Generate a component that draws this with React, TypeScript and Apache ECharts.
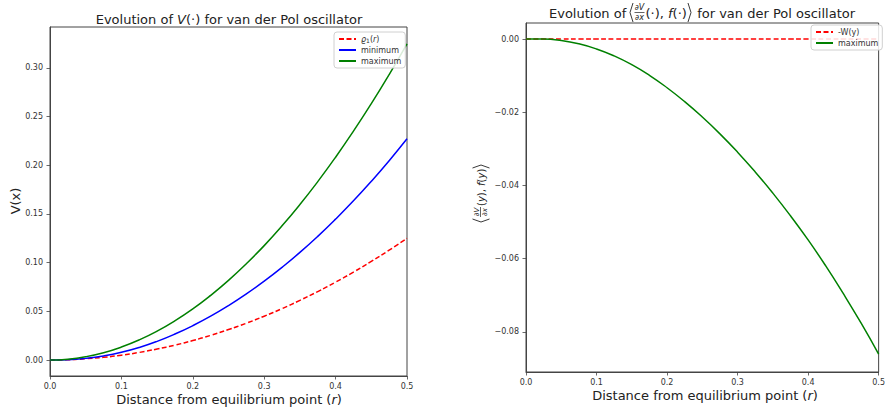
import React, { useEffect, useRef } from 'react';
import * as echarts from 'echarts';

// Distance from equilibrium point r
const R = [0, 0.025, 0.05, 0.075, 0.1, 0.125, 0.15, 0.175, 0.2, 0.225, 0.25, 0.275, 0.3, 0.325, 0.35, 0.375, 0.4, 0.425, 0.45, 0.475, 0.5];
// Left panel: V(.)
const RHO1 = [0, 0.0003, 0.0013, 0.0028, 0.0050, 0.0078, 0.0113, 0.0153, 0.0200, 0.0253, 0.0313, 0.0378, 0.0450, 0.0528, 0.0613, 0.0703, 0.0800, 0.0903, 0.1013, 0.1128, 0.1250];
const V_MIN = [0, 0.0003, 0.0017, 0.0042, 0.0079, 0.0129, 0.0192, 0.0267, 0.0353, 0.0450, 0.0559, 0.0679, 0.0810, 0.0952, 0.1105, 0.1270, 0.1447, 0.1635, 0.1835, 0.2047, 0.2272];
const V_MAX = [0, 0.0009, 0.0034, 0.0075, 0.0133, 0.0207, 0.0297, 0.0403, 0.0525, 0.0664, 0.0818, 0.0989, 0.1175, 0.1378, 0.1597, 0.1832, 0.2083, 0.2350, 0.2633, 0.2932, 0.3247];
// Right panel: <dV/dx, f>
const NEG_W = [0, 0, 0, 0, 0, 0, 0, 0, 0, 0, 0, 0, 0, 0, 0, 0, 0, 0, 0, 0, 0];
const DOT_MAX = [0, 0.0000, -0.0004, -0.0013, -0.0027, -0.0046, -0.0070, -0.0099, -0.0133, -0.0171, -0.0213, -0.0259, -0.0309, -0.0363, -0.0421, -0.0483, -0.0549, -0.0620, -0.0696, -0.0776, -0.0861];

const X_TICKS_STEP = 0.1;
const LEFT_Y_TICKS = [0, 0.05, 0.1, 0.15, 0.2, 0.25, 0.3];
const RIGHT_Y_TICKS = [0, -0.02, -0.04, -0.06, -0.08];

const RHO_NAME = 'ϱ1(r)';
const FONT = 'DejaVu Sans';
const AX = '#444';
const TXT = '#222';

const pairs = (ys: number[]) => R.map((r, i) => [r, ys[i]]);

const axisCommon = {
  axisLine: { show: true, onZero: false, lineStyle: { color: AX, width: 1 } },
  axisTick: { show: true, length: 3.5, lineStyle: { color: AX, width: 0.8 } },
  splitLine: { show: false },
};

const richBase = (size: number) => ({
  n: { fontSize: size, fontFamily: FONT, color: TXT },
  i: { fontSize: size, fontFamily: FONT, color: TXT, fontStyle: 'italic' },
});

const lineSeries = (name: string, ax: number, ys: number[], color: string, dashed: boolean) => ({
  name,
  type: 'line',
  xAxisIndex: ax,
  yAxisIndex: ax,
  data: pairs(ys),
  symbol: 'none',
  smooth: 0.5,
  lineStyle: { color, width: 1.5, type: dashed ? [5, 2.5] : 'solid' },
  itemStyle: { color },
});

function buildOption() {
  const legendText = {
    fontSize: 8,
    color: '#333',
    fontFamily: FONT,
    rich: {
      n: { fontSize: 8, fontFamily: FONT, color: '#333' },
      i: { fontSize: 8, fontFamily: FONT, color: '#333', fontStyle: 'italic' },
      s: { fontSize: 6, fontFamily: FONT, color: '#333', verticalAlign: 'bottom' },
    },
  };
  const legendCommon = {
    orient: 'vertical',
    itemWidth: 17,
    itemHeight: 10,
    itemGap: 3,
    padding: [3, 4, 3, 4],
    backgroundColor: 'rgba(255,255,255,0.85)',
    borderColor: '#d0d0d0',
    borderWidth: 1,
    borderRadius: 3,
    itemStyle: { opacity: 0 },
    textStyle: legendText,
    formatter: (n: string) => (n === RHO_NAME ? '{i|ϱ}{s|1}{n|(}{i|r}{n|)}' : n),
  };

  return {
    animation: false,
    backgroundColor: '#fff',
    grid: [
      { left: 50, top: 27, width: 357, height: 349, show: true, borderColor: AX, borderWidth: 1, backgroundColor: 'transparent' },
      { left: 526, top: 23, width: 357, height: 349, show: true, borderColor: AX, borderWidth: 1, backgroundColor: 'transparent' },
    ],
    xAxis: [0, 1].map((g) => ({
      type: 'value',
      gridIndex: g,
      min: 0,
      max: 0.5,
      interval: X_TICKS_STEP,
      ...axisCommon,
      axisLabel: { fontSize: 8, color: '#333', fontFamily: FONT, margin: 6, formatter: (v: number) => v.toFixed(1) },
    })),
    yAxis: [
      {
        type: 'value',
        gridIndex: 0,
        min: -0.0164,
        max: 0.342,
        ...axisCommon,
        axisTick: { ...axisCommon.axisTick, customValues: LEFT_Y_TICKS },
        axisLabel: { fontSize: 8, color: '#333', fontFamily: FONT, margin: 7, customValues: LEFT_Y_TICKS, formatter: (v: number) => v.toFixed(2) },
      },
      {
        type: 'value',
        gridIndex: 1,
        min: -0.091,
        max: 0.0044,
        ...axisCommon,
        axisTick: { ...axisCommon.axisTick, customValues: RIGHT_Y_TICKS },
        axisLabel: {
          fontSize: 8, color: '#333', fontFamily: FONT, margin: 7, customValues: RIGHT_Y_TICKS,
          formatter: (v: number) => (v < -1e-9 ? '\u2212' : '') + Math.abs(v).toFixed(2),
        },
      },
    ],
    legend: [
      { ...legendCommon, left: 334, top: 32, data: [RHO_NAME, 'minimum', 'maximum'] },
      { ...legendCommon, left: 811, top: 25, data: ['-W(y)', 'maximum '], formatter: (n: string) => n.trim() },
    ],
    series: [
      lineSeries(RHO_NAME, 0, RHO1, '#ff0000', true),
      lineSeries('minimum', 0, V_MIN, '#0000ff', false),
      lineSeries('maximum', 0, V_MAX, '#008000', false),
      lineSeries('-W(y)', 1, NEG_W, '#ff0000', true),
      lineSeries('maximum ', 1, DOT_MAX, '#008000', false),
    ],
    graphic: [
      // Left title
      {
        type: 'text', x: 229, y: 19,
        style: {
          text: '{n|Evolution of }{i|V}{n|(·) for van der Pol oscillator}',
          rich: richBase(13), align: 'center', verticalAlign: 'middle', fill: TXT, fontFamily: FONT, fontSize: 13,
        },
      },
      // Left x label
      {
        type: 'text', x: 229, y: 399,
        style: {
          text: '{n|Distance from equilibrium point (}{i|r}{n|)}',
          rich: richBase(13), align: 'center', verticalAlign: 'middle', fill: TXT, fontFamily: FONT, fontSize: 13,
        },
      },
      // Right x label
      {
        type: 'text', x: 705, y: 395,
        style: {
          text: '{n|Distance from equilibrium point (}{i|r}{n|)}',
          rich: richBase(13), align: 'center', verticalAlign: 'middle', fill: TXT, fontFamily: FONT, fontSize: 13,
        },
      },
      // Left y label
      {
        type: 'text', x: 15, y: 201, rotation: Math.PI / 2,
        style: { text: 'V(x)', fontSize: 13, fontFamily: FONT, fill: TXT, align: 'center', verticalAlign: 'middle' },
      },
      // Right title
      {
        type: 'group', x: 0, y: 0,
        children: [
          { type: 'text', x: 549, y: 13, style: { text: 'Evolution of', fontSize: 13, fontFamily: FONT, fill: TXT, align: 'left', verticalAlign: 'middle' } },
          { type: 'polyline', shape: { points: [[633, 3], [630, 12.5], [633, 22]] }, style: { stroke: TXT, lineWidth: 0.9, fill: null } },
          { type: 'text', x: 639.5, y: 7.5, style: { text: '∂V', fontSize: 8, fontStyle: 'italic', fontFamily: FONT, fill: TXT, align: 'center', verticalAlign: 'middle' } },
          { type: 'line', shape: { x1: 634.5, y1: 12.5, x2: 644.5, y2: 12.5 }, style: { stroke: TXT, lineWidth: 0.7 } },
          { type: 'text', x: 639.5, y: 17.5, style: { text: '∂x', fontSize: 8, fontStyle: 'italic', fontFamily: FONT, fill: TXT, align: 'center', verticalAlign: 'middle' } },
          { type: 'text', x: 645.5, y: 13, style: { text: '{n|(·), }{i|f}{n|(·)}', rich: richBase(13), fontSize: 13, fontFamily: FONT, fill: TXT, align: 'left', verticalAlign: 'middle' } },
          { type: 'polyline', shape: { points: [[688, 3], [691, 12.5], [688, 22]] }, style: { stroke: TXT, lineWidth: 0.9, fill: null } },
          { type: 'text', x: 693, y: 13, style: { text: ' for van der Pol oscillator', fontSize: 13, fontFamily: FONT, fill: TXT, align: 'left', verticalAlign: 'middle' } },
        ],
      },
      // Right y label
      {
        type: 'group', x: 481, y: 196, rotation: Math.PI / 2,
        children: [
          { type: 'polyline', shape: { points: [[-23, -8.5], [-26, 0], [-23, 8.5]] }, style: { stroke: TXT, lineWidth: 0.9, fill: null } },
          { type: 'text', x: -16, y: -4.5, style: { text: '∂V', fontSize: 7, fontStyle: 'italic', fontFamily: FONT, fill: TXT, align: 'center', verticalAlign: 'middle' } },
          { type: 'line', shape: { x1: -21, y1: -0.5, x2: -11, y2: -0.5 }, style: { stroke: TXT, lineWidth: 0.7 } },
          { type: 'text', x: -16, y: 4, style: { text: '∂x', fontSize: 7, fontStyle: 'italic', fontFamily: FONT, fill: TXT, align: 'center', verticalAlign: 'middle' } },
          { type: 'text', x: -10, y: 0, style: { text: '{n|(}{i|y}{n|), }{i|f}{n|(}{i|y}{n|)}', rich: richBase(10), fontSize: 10, fontFamily: FONT, fill: TXT, align: 'left', verticalAlign: 'middle' } },
          { type: 'polyline', shape: { points: [[28, -8.5], [31, 0], [28, 8.5]] }, style: { stroke: TXT, lineWidth: 0.9, fill: null } },
        ],
      },
    ],
  };
}

export default function App() {
  const ref = useRef<HTMLDivElement>(null);
  useEffect(() => {
    if (!ref.current) return;
    const chart = echarts.init(ref.current, null, { renderer: 'svg' });
    chart.setOption(buildOption() as any);
    return () => chart.dispose();
  }, []);
  return (
    <div
      ref={ref}
      style={{ position: 'fixed', left: 0, top: 0, width: 888, height: 410, background: '#fff' }}
    />
  );
}
